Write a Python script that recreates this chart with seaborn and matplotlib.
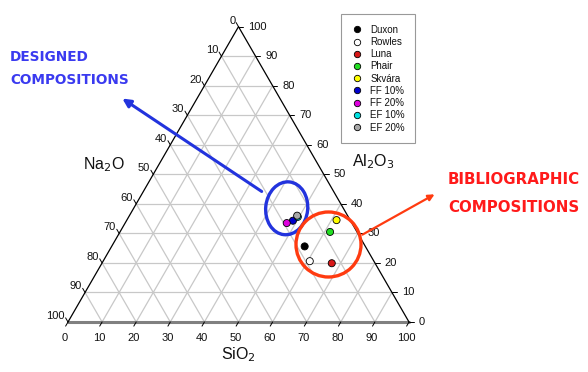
import numpy as np
import pandas as pd
import matplotlib
matplotlib.use("Agg")
import matplotlib.pyplot as plt
from matplotlib.patches import Ellipse
from matplotlib.lines import Line2D
import seaborn as sns

# Compositions (wt %)
labels = ["Duxon", "Rowles", "Luna", "Phair", "Skvára", "FF 10%", "FF 20%", "EF 10%", "EF 20%"]
sio2 = [56.6, 60.6, 67.4, 61.6, 61.5, 48.8, 47.4, 49.6, 49.2]
al2o3 = [25.6, 20.6, 19.9, 30.5, 34.5, 34.3, 33.5, 35.6, 36.0]
na2o = [17.8, 18.8, 12.7, 7.9, 4.0, 16.9, 19.1, 14.8, 14.8]
colors = ["#000000", "#ffffff", "#d81818", "#22dd22", "#ffff00",
          "#0000cc", "#dd00dd", "#00e0e0", "#a8a8a8"]
ticks = list(range(0, 101, 10))

W, H = 588, 372
X0, Y0, S = 68, 322, 3.41   # pixel of SiO2=0/Al2O3=0 corner, px per unit
H3 = np.sqrt(3) / 2


def tern(si, al):
    # bottom: SiO2 left->right, top vertex: Al2O3
    return si + al / 2.0, al * H3


def fx(px):
    return px / W


def fy(py):
    return 1 - py / H


df = pd.DataFrame({"label": labels, "SiO2": sio2, "Al2O3": al2o3, "Na2O": na2o})
df["x"], df["y"] = tern(df["SiO2"], df["Al2O3"])

sns.set_style("white")
plt.rcParams["font.family"] = ["Liberation Sans", "DejaVu Sans"]
plt.rcParams["text.color"] = "#111111"

fig = plt.figure(figsize=(W / 100, H / 100), dpi=100)
ax = fig.add_axes([0, 0, 1, 1])
ax.set_xlim(-X0 / S, (W - X0) / S)
ax.set_ylim(-(H - Y0) / S, Y0 / S)
ax.set_aspect("equal")
ax.axis("off")

grid_kw = dict(color="#c8c8c8", lw=0.9, zorder=1)
for v in ticks[1:-1]:
    # constant Al2O3 (horizontal)
    x1, y1 = tern(0, v)
    x2, y2 = tern(100 - v, v)
    ax.plot([x1, x2], [y1, y2], **grid_kw)
    # constant SiO2
    x1, y1 = tern(v, 0)
    x2, y2 = tern(v, 100 - v)
    ax.plot([x1, x2], [y1, y2], **grid_kw)
    # constant Na2O
    x1, y1 = tern(100 - v, 0)
    x2, y2 = tern(0, 100 - v)
    ax.plot([x1, x2], [y1, y2], **grid_kw)

# triangle edges
ax.plot([0, 100], [0, 0], color="#808080", lw=2.2, zorder=2)
ax.plot([0, 50], [0, 100 * H3], color="black", lw=0.9, zorder=2)
ax.plot([100, 50], [0, 100 * H3], color="black", lw=0.9, zorder=2)

tl = 1.4
tick_fs = 8
for v in ticks:
    # SiO2 on the bottom
    x, y = tern(v, 0)
    ax.plot([x, x - 0.5 * tl], [y, y - H3 * tl], color="black", lw=0.7)
    ax.annotate(str(v), (x, y), xytext=(-3, -16), textcoords="offset pixels",
                ha="center", va="center", fontsize=tick_fs)
    # Al2O3 on the right
    x, y = tern(100 - v, v)
    ax.plot([x, x + tl], [y, y], color="black", lw=0.7)
    ax.annotate(str(v), (x, y), xytext=(10, 0), textcoords="offset pixels",
                ha="left", va="center", fontsize=tick_fs)
    # Na2O on the left
    x, y = tern(0, 100 - v)
    ax.plot([x, x - 0.5 * tl], [y, y + H3 * tl], color="black", lw=0.7)
    ax.annotate(str(v), (x, y), xytext=(-3, 6), textcoords="offset pixels",
                ha="right", va="center", fontsize=tick_fs)

fig.text(fx(238), fy(355), "SiO$_2$", ha="center", va="center", fontsize=11.5)
fig.text(fx(104), fy(165), "Na$_2$O", ha="center", va="center", fontsize=11.5)
fig.text(fx(373), fy(162), "Al$_2$O$_3$", ha="center", va="center", fontsize=11.5)

# highlight ellipses
ax.add_patch(Ellipse(((286.7 - X0) / S, (Y0 - 208.3) / S), 42 / S, 53 / S, angle=-6,
                     fill=False, ec="#2233dd", lw=2.4, zorder=3))
ax.add_patch(Ellipse(((328.5 - X0) / S, (Y0 - 244.5) / S), 65 / S, 65 / S,
                     fill=False, ec="#ff3b10", lw=2.4, zorder=3))

ax.annotate("", xy=((120 - X0) / S, (Y0 - 97) / S), xytext=((264 - X0) / S, (Y0 - 193) / S),
            arrowprops=dict(arrowstyle="-|>", color="#2233dd", lw=2.2, mutation_scale=12))
ax.annotate("", xy=((437 - X0) / S, (Y0 - 193) / S), xytext=((360 - X0) / S, (Y0 - 236) / S),
            arrowprops=dict(arrowstyle="-|>", color="#ff3b10", lw=1.6, mutation_scale=9))

note_kw = dict(ha="left", va="center", fontweight="bold", family="DejaVu Sans")
fig.text(fx(10), fy(57), "DESIGNED", color="#3a3af0", fontsize=9.8, **note_kw)
fig.text(fx(10), fy(80), "COMPOSITIONS", color="#3a3af0", fontsize=9.8, **note_kw)
fig.text(fx(448), fy(180), "BIBLIOGRAPHIC", color="#ff1a1a", fontsize=10.8, **note_kw)
fig.text(fx(448), fy(208), "COMPOSITIONS", color="#ff1a1a", fontsize=10.8, **note_kw)

palette = dict(zip(labels, colors))
sns.scatterplot(data=df, x="x", y="y", hue="label", palette=palette, s=26,
                edgecolor="black", linewidth=0.6, legend=False, zorder=5, ax=ax)

handles = [Line2D([], [], marker="o", ls="", markersize=4.6, markerfacecolor=c,
                  markeredgecolor="black", markeredgewidth=0.6) for c in colors]
leg = ax.legend(handles, labels, loc="upper left", bbox_to_anchor=(fx(341), fy(14)),
                bbox_transform=fig.transFigure, fontsize=7, frameon=True, fancybox=False,
                borderpad=1.1, labelspacing=0.23, handlelength=1.0, handletextpad=0.9,
                borderaxespad=0)
leg.get_frame().set_edgecolor("#808080")
leg.get_frame().set_linewidth(0.8)

fig.savefig("out.png", dpi=100)
